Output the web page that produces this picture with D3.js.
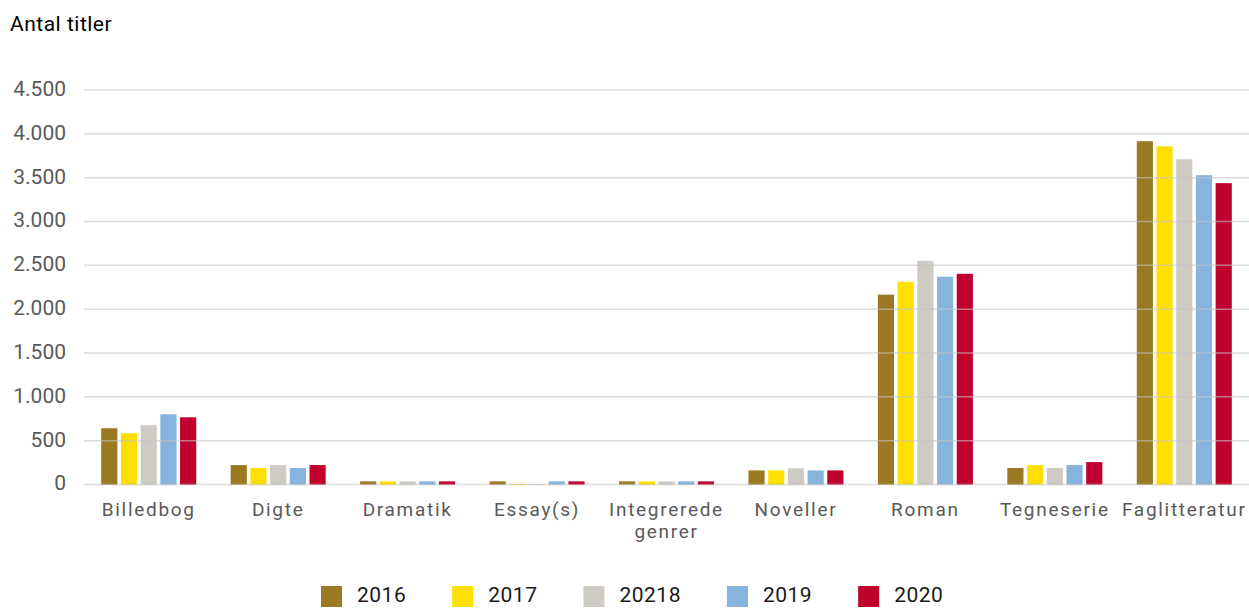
<!DOCTYPE html>
<html><head><meta charset="utf-8">
<script src="https://cdn.jsdelivr.net/npm/d3@7"></script>
<style>body{margin:0;background:#fff}svg{display:block}</style>
</head><body>
<svg id="c" width="1249" height="608"></svg>
<script>
const categories = ["Billedbog","Digte","Dramatik","Essay(s)","Integrerede genrer","Noveller","Roman","Tegneserie","Faglitteratur"];
const seriesNames = ["2016","2017","20218","2019","2020"];
const colors = ["#9B7923","#FFDF00","#CECBC4","#86B4DC","#C0002D"];
const v2016 = [636,216,30,30,30,155,2160,182,3910];
const v2017 = [580,182,30,0,30,155,2307,216,3852];
const v2018 = [670,216,30,0,30,180,2545,182,3705];
const v2019 = [795,182,30,30,30,155,2364,216,3523];
const v2020 = [761,216,30,30,30,155,2398,250,3432];
const yTicks = [0,500,1000,1500,2000,2500,3000,3500,4000,4500];
const series = [v2016,v2017,v2018,v2019,v2020];

const svg = d3.select("#c");
const font = "Roboto, 'DejaVu Sans', sans-serif";
const mLeft = 84, mRight = 1249, mTop = 89.5, mBottom = 484;

const x0 = d3.scaleBand().domain(categories).range([mLeft,mRight]).paddingInner(0.266).paddingOuter(0.133);
const x1 = d3.scaleBand().domain(seriesNames).range([0,x0.bandwidth()]).paddingInner(0.18).paddingOuter(0);
const y = d3.scaleLinear().domain([0,4500]).range([mBottom,mTop]);

// bars
const g = svg.append("g");
categories.forEach((c,ci)=>{
  series.forEach((s,si)=>{
    g.append("rect")
      .attr("x", x0(c)+x1(seriesNames[si]))
      .attr("y", y(s[ci]))
      .attr("width", x1.bandwidth())
      .attr("height", mBottom - y(s[ci]) + 1)
      .attr("fill", colors[si]);
  });
});

// grid on top
const yAxis = d3.axisLeft(y).tickValues(yTicks).tickSize(-(mRight-mLeft)).tickPadding(18)
  .tickFormat(d=>d3.format(",")(d).replace(/,/g,"."));
const ga = svg.append("g").attr("transform",`translate(${mLeft},0)`).call(yAxis);
ga.select(".domain").remove();
ga.selectAll(".tick line").attr("stroke","#c4c4c4").attr("stroke-opacity",0.6).attr("stroke-width",1.5);
ga.selectAll(".tick text").attr("fill","#595959").attr("dy","0.28em").style("font-family",font).style("font-size","21px");

// x labels
const gx = svg.append("g");
categories.forEach(c=>{
  const words = c.split(" ");
  const cx = x0(c)+x0.bandwidth()/2;
  const t = gx.append("text").attr("x", cx).attr("y", 516)
    .attr("text-anchor","middle").attr("fill","#595959")
    .style("font-family",font).style("font-size","19px").style("letter-spacing","1.7px");
  words.forEach((w,i)=>t.append("tspan").attr("x", cx).attr("dy", i?22:0).text(w));
});

// title
svg.append("text").attr("x",10).attr("y",31).attr("fill","#000")
  .style("font-family",font).style("font-size","21px").style("letter-spacing","0.5px").text("Antal titler");

// legend
const lg = svg.append("g");
let lx = 321;
seriesNames.forEach((n,i)=>{
  lg.append("rect").attr("x",lx).attr("y",586).attr("width",21).attr("height",21).attr("fill",colors[i]);
  const t = lg.append("text").attr("x",lx+36).attr("y",602).attr("fill","#1a1a1a")
    .style("font-family",font).style("font-size","21px").style("letter-spacing","0.5px").text(n);
  lx += 36 + t.node().getComputedTextLength() + 46;
});
</script>
</body></html>
